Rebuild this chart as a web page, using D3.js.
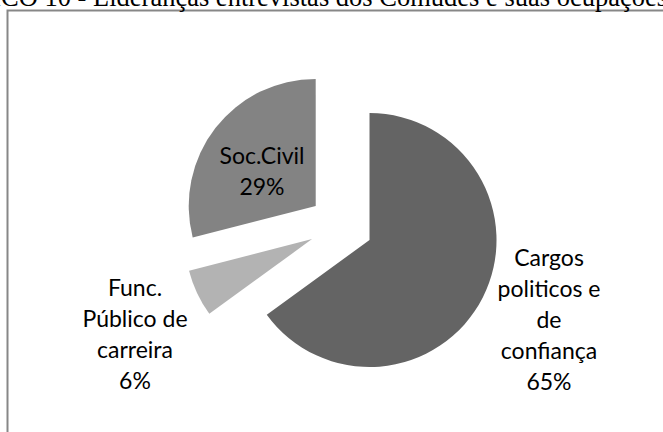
<!DOCTYPE html>
<html><head><meta charset="utf-8">
<script src="https://cdn.jsdelivr.net/npm/d3@7"></script>
<style>html,body{margin:0;padding:0;background:#fff;overflow:hidden}svg{display:block}</style>
</head><body>
<svg id="c" width="663" height="432"></svg>
<script>
const title = "GRÁFICO 10 - Lideranças entrevistas dos Comudes e suas ocupações";
const categories = ["Cargos politicos e de confiança", "Func. Público de carreira", "Soc.Civil"];
const values = [65, 6, 29];
const labelLines = [["Cargos", "politicos e", "de", "confiança", "65%"], ["Func.", "Público de", "carreira", "6%"], ["Soc.Civil", "29%"]];
const colors = ["#646464", "#b3b3b3", "#838383"];

const svg = d3.select("#c");
const W = 663, H = 432;
svg.append("rect").attr("width", W).attr("height", H).attr("fill", "#fff");

// frame
svg.append("rect").attr("x", 7.5).attr("y", 10.5).attr("width", 700).attr("height", 500)
  .attr("fill", "none").attr("stroke", "#878787").attr("stroke-width", 2);

// title (left part cropped as in the source)
const tfs = 26.5;
const t = svg.append("text").attr("y", 6).attr("font-family", "Liberation Serif")
  .attr("font-size", tfs).attr("fill", "#000").text(title);
const pre = svg.append("text").attr("font-family", "Liberation Serif").attr("font-size", tfs).text("GRÁFI");
const preW = pre.node().getComputedTextLength(); pre.remove();
t.attr("x", -preW + 1);

const cx = 341, cy = 225.5, R = 127, explode = 32;
const pie = d3.pie().sort(null).value(d => d)(values);
const arc = d3.arc().innerRadius(0).outerRadius(R);
const g = svg.append("g").attr("transform", `translate(${cx},${cy})`);

pie.forEach((p, i) => {
  const mid = (p.startAngle + p.endAngle) / 2;
  const dx = Math.sin(mid) * explode, dy = -Math.cos(mid) * explode;
  g.append("path").attr("d", arc(p)).attr("fill", colors[i])
    .attr("transform", `translate(${dx},${dy})`);
});

// label centres relative to the pie centre
const labelOffset = [[208, 94], [-206, 109], [-79, -54]];
const lh = 31, fs = 23;
pie.forEach((p, i) => {
  const [lx, ly] = labelOffset[i];
  const lines = labelLines[i];
  const txt = g.append("text").attr("text-anchor", "middle").attr("font-family", "Lato")
    .attr("font-size", fs).attr("fill", "#000");
  const y0 = ly - (lines.length - 1) * lh / 2 + fs * 0.35;
  lines.forEach((l, k) => {
    txt.append("tspan").attr("x", lx).attr("y", y0 + k * lh).text(l);
  });
});
</script>
</body></html>
